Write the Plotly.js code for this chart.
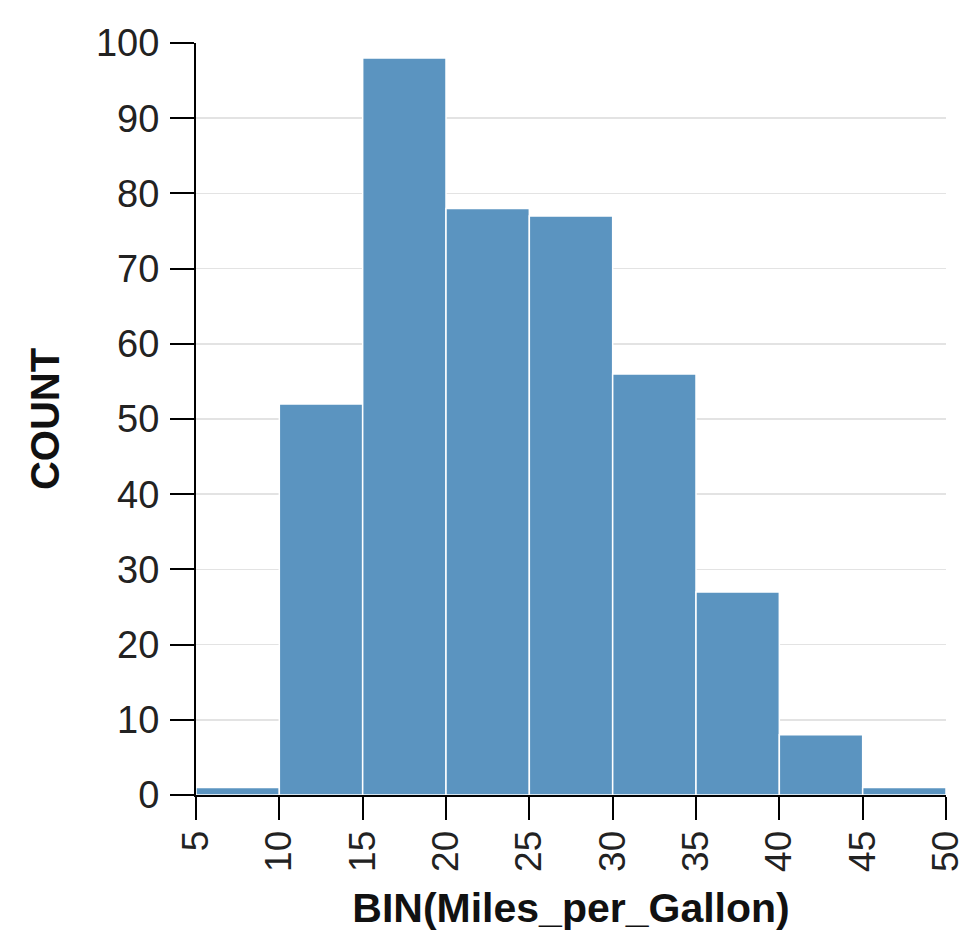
<!DOCTYPE html>
<html><head><meta charset="utf-8">
<script src="https://cdn.plot.ly/plotly-3.0.1.min.js"></script>
<style>html,body{margin:0;padding:0;background:#fff;}</style>
</head><body>
<div id="chart" style="width:973px;height:938px;"></div>
<script>
const binStarts = [5, 10, 15, 20, 25, 30, 35, 40, 45];
const binWidth = 5;
const counts = [1, 52, 98, 78, 77, 56, 27, 8, 1];
const xTicks = [5, 10, 15, 20, 25, 30, 35, 40, 45, 50];
const yTicks = [0, 10, 20, 30, 40, 50, 60, 70, 80, 90, 100];

const centers = binStarts.map(s => s + binWidth / 2);

Plotly.newPlot('chart', [{
  type: 'bar',
  x: centers,
  y: counts,
  width: binStarts.map(() => binWidth),
  marker: {color: '#5b94c0', line: {color: '#ffffff', width: 1.5}},
  hoverinfo: 'x+y'
}], {
  width: 973, height: 938,
  margin: {l: 196, r: 27, t: 43, b: 143},
  paper_bgcolor: '#fff', plot_bgcolor: '#fff',
  font: {family: 'Liberation Sans, Arial, sans-serif', color: '#222', size: 38},
  showlegend: false,
  bargap: 0,
  xaxis: {
    range: [5, 50], tickvals: xTicks, ticktext: xTicks.map(String),
    tickangle: -90, ticks: 'outside', ticklen: 23, tickwidth: 2, tickcolor: '#000',
    showline: true, linecolor: '#000', linewidth: 2, showgrid: false, zeroline: false,
    tickfont: {size: 37, color: '#222'}, ticklabelstandoff: -4,
    title: {text: 'BIN(Miles_per_Gallon)', font: {size: 41, color: '#111', weight: 'bold'}, standoff: 22}
  },
  yaxis: {
    range: [0, 100], tickvals: yTicks, ticks: 'outside', ticklen: 24, tickwidth: 2, tickcolor: '#000',
    showline: true, linecolor: '#000', linewidth: 2, showgrid: true, gridcolor: '#e3e3e3', gridwidth: 1.5,
    zeroline: false, tickfont: {size: 38, color: '#222'}, ticklabelstandoff: 3,
    title: {text: 'COUNT', font: {size: 40, color: '#111', weight: 'bold'}, standoff: 24}
  }
}, {displayModeBar: false, staticPlot: true});
</script>
</body></html>
